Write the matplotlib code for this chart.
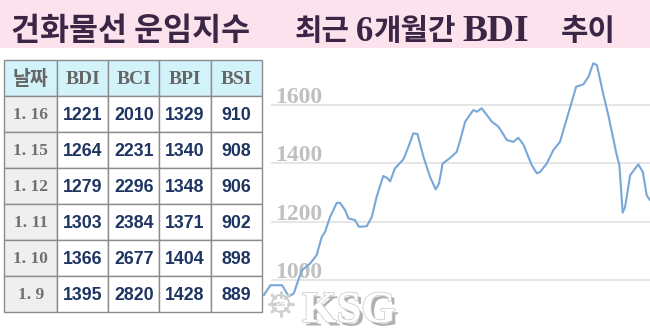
import matplotlib
matplotlib.use("Agg")
import matplotlib.pyplot as plt
from matplotlib.patches import Rectangle, Circle
import matplotlib.patheffects as pe
import numpy as np

# ---------------- data ----------------
title_left = "건화물선 운임지수"
table_header = ["날짜", "BDI", "BCI", "BPI", "BSI"]
dates = ["1. 16", "1. 15", "1. 12", "1. 11", "1. 10", "1. 9"]
bdi_tbl = [1221, 1264, 1279, 1303, 1366, 1395]
bci_tbl = [2010, 2231, 2296, 2384, 2677, 2820]
bpi_tbl = [1329, 1340, 1348, 1371, 1404, 1428]
bsi_tbl = [910, 908, 906, 902, 898, 889]

# BDI line over the last 6 months (x = approx. trading day)
days = [0.6, 2.8, 6.7, 8.9, 10.6, 11.7, 13.3, 16.0, 18.2, 19.9, 21.0, 22.7, 24.9,
        26.0, 27.7, 28.8, 29.9, 31.0, 32.3, 34.9, 36.6, 38.2, 40.4, 41.6, 42.7,
        44.3, 47.1, 48.8, 50.4, 51.8, 53.8, 56.0, 57.9, 59.0, 60.2, 62.1, 63.8,
        64.9, 66.0, 67.7, 70.4, 71.6, 73.2, 74.9, 76.6, 78.8, 81.6, 83.8, 85.4,
        87.1, 89.9, 91.6, 92.7, 94.9, 97.1, 99.3, 102.1, 104.7, 107.1, 108.8,
        110.4, 111.6, 113.8, 115.4, 118.2, 119.1, 120.2, 121.0, 122.7, 125.4,
        126.9, 128.2, 129.3]
bdi = [949, 983, 983, 945, 955, 989, 1034, 1057, 1086, 1148, 1166, 1217, 1265,
       1265, 1240, 1212, 1209, 1206, 1183, 1185, 1217, 1286, 1357, 1351, 1339,
       1383, 1414, 1457, 1503, 1501, 1423, 1354, 1311, 1332, 1400, 1414, 1429,
       1440, 1478, 1543, 1583, 1577, 1589, 1566, 1543, 1526, 1480, 1474, 1488,
       1465, 1394, 1366, 1371, 1400, 1446, 1474, 1572, 1663, 1671, 1697, 1743,
       1737, 1634, 1566, 1429, 1394, 1232, 1251, 1360, 1397, 1371, 1291, 1274]
y_ticks = [1000, 1200, 1400, 1600]

# ---------------- figure ----------------
W, H = 650, 332
fig = plt.figure(figsize=(W / 100, H / 100), dpi=100)
fig.patch.set_facecolor("white")

bg = fig.add_axes([0, 0, 1, 1])
bg.set_xlim(0, W)
bg.set_ylim(H, 0)
bg.axis("off")

serif = ["Liberation Serif", "DejaVu Serif"]
cjk = ["Noto Sans CJK KR", "DejaVu Sans"]

# title band
bg.add_patch(Rectangle((0, 0), W, 48, facecolor="#fbe2ec", edgecolor="none"))
tcol = "#3b2646"
bg.text(11, 40, title_left, fontsize=22.7, fontweight="bold", color=tcol,
        family=cjk, va="baseline", ha="left")
bg.text(295, 40, "최근", fontsize=21.5, fontweight="bold", color=tcol, family=cjk,
        va="baseline", ha="left")
bg.text(356, 40.7, "6", fontsize=25, fontweight="bold", color=tcol, family=serif,
        va="baseline", ha="left")
bg.text(373, 40, "개월간", fontsize=21.5, fontweight="bold", color=tcol, family=cjk,
        va="baseline", ha="left")
bg.text(462, 40.7, "BDI", fontsize=27, fontweight="bold", color=tcol, family=serif,
        va="baseline", ha="left")
bg.text(561, 40, "추이", fontsize=21.5, fontweight="bold", color=tcol, family=cjk,
        va="baseline", ha="left")

# table
col_x = [4, 57.3, 108.3, 159.3, 210.7, 261.7]
row_top = 60
row_h = 36.05
n_rows = len(dates) + 1
grid_col = "#8c8c8c"
for r in range(n_rows):
    y0 = row_top + r * row_h
    for c in range(5):
        x0 = col_x[c]
        w = col_x[c + 1] - col_x[c]
        if r == 0:
            fc = "#d3f3fb"
        elif c == 0:
            fc = "#efefef"
        else:
            fc = "white"
        bg.add_patch(Rectangle((x0, y0), w, row_h, facecolor=fc,
                               edgecolor=grid_col, linewidth=1.0))

def cell_center(r, c):
    return ((col_x[c] + col_x[c + 1]) / 2, row_top + r * row_h + row_h / 2)

hdr_col = "#666666"
for c, h in enumerate(table_header):
    cx, cy = cell_center(0, c)
    fam = cjk if c == 0 else serif
    bg.text(cx, cy + 1, h, fontsize=14, fontweight="bold", color=hdr_col,
            family=fam, ha="center", va="center")

num_col = "#1e3461"
cols = [bdi_tbl, bci_tbl, bpi_tbl, bsi_tbl]
for r in range(len(dates)):
    cx, cy = cell_center(r + 1, 0)
    bg.text(cx, cy + 1, dates[r], fontsize=12.5, fontweight="bold", color="#707070",
            family=serif, ha="center", va="center")
    for c in range(4):
        cx, cy = cell_center(r + 1, c + 1)
        bg.text(cx, cy + 1, str(cols[c][r]), fontsize=12.8, fontweight="bold",
                color=num_col, family=["Liberation Sans", "DejaVu Sans"],
                ha="center", va="center")

# chart
ax = fig.add_axes([262 / W, 0, (W - 262) / W, (H - 55) / H])
ax.patch.set_alpha(0)
ax.set_xlim(0, 129.3)
ax.set_ylim(822.9, 1771.4)
ax.axis("off")
ax.hlines(y_ticks, 3, 129.3, color="#e6e6e6", linewidth=1.4, zorder=1)
for v in y_ticks:
    ax.text(4.5, v + 8, str(v), fontsize=17, fontweight="bold", color="#c0c0c0",
            family=serif, ha="left", va="baseline", zorder=2)
ax.plot(days, bdi, color="#78a7d8", linewidth=1.5, solid_joinstyle="round",
        solid_capstyle="round", zorder=3)

# watermark overlay
top = fig.add_axes([0, 0, 1, 1])
top.set_xlim(0, W)
top.set_ylim(H, 0)
top.axis("off")
top.patch.set_alpha(0)
wc = (280.5, 303.5)
for a in np.arange(0, 2 * np.pi, np.pi / 4):
    top.plot([wc[0] + 7 * np.cos(a), wc[0] + 12 * np.cos(a)],
             [wc[1] + 7 * np.sin(a), wc[1] + 12 * np.sin(a)],
             color="#d0d0d0", linewidth=2.2, solid_capstyle="round")
top.add_patch(Circle(wc, 8.5, facecolor="white", edgecolor="#c8c8c8",
                     linewidth=1.2))
top.text(wc[0], wc[1] + 0.5, "KSG", fontsize=4, color="#a8a8a8", ha="center", va="center")
top.text(302, 322, "KSG", fontsize=32, fontweight="bold", color="white",
         family=serif, ha="left", va="baseline",
         path_effects=[pe.withSimplePatchShadow(offset=(2.5, -2.5), shadow_rgbFace="#8f8f8f",
                                                alpha=0.7),
                       pe.Stroke(linewidth=1.2, foreground="#cfcfcf"),
                       pe.Normal()])

fig.savefig("out.png", dpi=100)
